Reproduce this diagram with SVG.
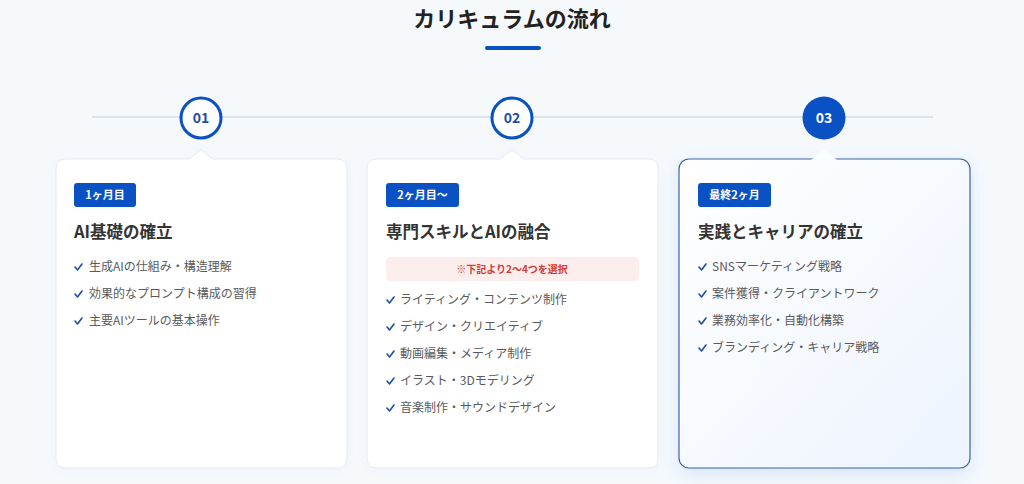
<svg xmlns="http://www.w3.org/2000/svg" width="1024" height="484" viewBox="0 0 1024 484">
<defs>
<style>
.t{font-family:"Noto Sans CJK JP","Noto Sans",sans-serif}
.title{font-size:22px;font-weight:700;fill:#222;text-anchor:middle}
.num{font-size:14px;font-weight:700;text-anchor:middle}
.badge{fill:#0a52c4}
.btxt{font-size:11px;font-weight:700;fill:#fff;text-anchor:middle}
.h{font-size:16.5px;font-weight:700;fill:#333}
.it{font-size:12px;fill:#5a5a5a}
.ck{fill:none;stroke:#1d4fa0;stroke-width:1.6;stroke-linecap:round;stroke-linejoin:round}
.card{fill:#fff;stroke:#e6ebf2;stroke-width:1}
</style>
<linearGradient id="g3" x1="0" y1="0" x2="1" y2="1">
<stop offset="0" stop-color="#ffffff"/>
<stop offset="1" stop-color="#edf4fe"/>
</linearGradient>
<filter id="sh" x="-20%" y="-20%" width="140%" height="140%">
<feDropShadow dx="0" dy="6" stdDeviation="9" flood-color="#3a6fd0" flood-opacity="0.16"/>
</filter>
<filter id="sh0" x="-20%" y="-20%" width="140%" height="140%">
<feDropShadow dx="0" dy="2" stdDeviation="4" flood-color="#6080b0" flood-opacity="0.06"/>
</filter>
</defs>
<rect width="1024" height="484" fill="#f6f9fc"/>
<text class="t title" x="512" y="27">カリキュラムの流れ</text>
<rect x="485" y="46" width="56" height="4" rx="2" fill="#0a52c4"/>

<g id="connectors">
<line x1="92" y1="117" x2="933" y2="117" stroke="#dde3ea" stroke-width="2"/>
</g>

<g id="step1">
<circle cx="201" cy="118" r="20" fill="#fff" stroke="#0a52c4" stroke-width="3"/>
<text class="t num" x="201" y="123" fill="#1d4fa0">01</text>
<path d="M66 159 H189 L201 150 L213 159 H337 Q347 159 347 169 V458 Q347 468 337 468 H66 Q56 468 56 458 V169 Q56 159 66 159 Z" class="card" filter="url(#sh0)"/>
<rect class="badge" x="74" y="183" width="62" height="24" rx="3"/>
<text class="t btxt" x="105" y="199">1ヶ月目</text>
<text class="t h" x="74" y="238">AI基礎の確立</text>
<path class="ck" d="M75 267 l2.5 3 l4.5 -6"/><text class="t it" x="89" y="271">生成AIの仕組み・構造理解</text>
<path class="ck" d="M75 294 l2.5 3 l4.5 -6"/><text class="t it" x="89" y="298">効果的なプロンプト構成の習得</text>
<path class="ck" d="M75 321 l2.5 3 l4.5 -6"/><text class="t it" x="89" y="325">主要AIツールの基本操作</text>
</g>

<g id="step2">
<circle cx="512" cy="118" r="20" fill="#fff" stroke="#0a52c4" stroke-width="3"/>
<text class="t num" x="512" y="123" fill="#1d4fa0">02</text>
<path d="M377 159 H500 L512 150 L524 159 H648 Q658 159 658 169 V458 Q658 468 648 468 H377 Q367 468 367 458 V169 Q367 159 377 159 Z" class="card" filter="url(#sh0)"/>
<rect class="badge" x="386" y="183" width="73" height="24" rx="3"/>
<text class="t btxt" x="422.5" y="199">2ヶ月目〜</text>
<text class="t h" x="386" y="238">専門スキルとAIの融合</text>
<rect x="386" y="257" width="253" height="24" rx="4" fill="#fdeeee"/>
<text class="t" x="512" y="273" font-size="10px" font-weight="700" fill="#d63a3a" text-anchor="middle">※下記より2〜4つを選択</text>
<path class="ck" d="M387 300 l2.5 3 l4.5 -6"/><text class="t it" x="400" y="304">ライティング・コンテンツ制作</text>
<path class="ck" d="M387 327 l2.5 3 l4.5 -6"/><text class="t it" x="400" y="331">デザイン・クリエイティブ</text>
<path class="ck" d="M387 354 l2.5 3 l4.5 -6"/><text class="t it" x="400" y="358">動画編集・メディア制作</text>
<path class="ck" d="M387 381 l2.5 3 l4.5 -6"/><text class="t it" x="400" y="385">イラスト・3Dモデリング</text>
<path class="ck" d="M387 408 l2.5 3 l4.5 -6"/><text class="t it" x="400" y="412">音楽制作・サウンドデザイン</text>
</g>

<g id="step3">
<circle cx="824" cy="118" r="21.5" fill="#0a52c4"/>
<text class="t num" x="824" y="123" fill="#fff">03</text>
<rect x="679" y="159" width="291" height="309" rx="10" fill="url(#g3)" stroke="#3464a8" stroke-width="1.2" filter="url(#sh)"/>
<path d="M811 160 L824 150 L837 160 Z" fill="#fbfdff"/>
<rect class="badge" x="698" y="183" width="73" height="24" rx="3"/>
<text class="t btxt" x="734.5" y="199">最終2ヶ月</text>
<text class="t h" x="698" y="238">実践とキャリアの確立</text>
<path class="ck" d="M699 267 l2.5 3 l4.5 -6"/><text class="t it" x="712" y="271">SNSマーケティング戦略</text>
<path class="ck" d="M699 294 l2.5 3 l4.5 -6"/><text class="t it" x="712" y="298">案件獲得・クライアントワーク</text>
<path class="ck" d="M699 321 l2.5 3 l4.5 -6"/><text class="t it" x="712" y="325">業務効率化・自動化構築</text>
<path class="ck" d="M699 348 l2.5 3 l4.5 -6"/><text class="t it" x="712" y="352">ブランディング・キャリア戦略</text>
</g>
</svg>
